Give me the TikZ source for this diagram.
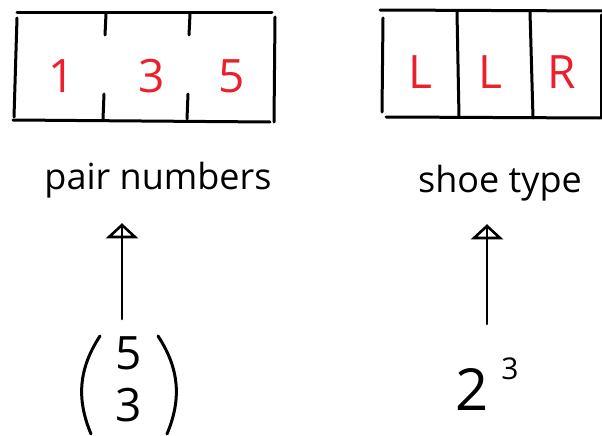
\documentclass[tikz,border=0pt]{standalone}
\usepackage{fontspec}
\setmainfont{Open Sans}
\definecolor{pen}{RGB}{236,32,44}
\tikzset{
  ink/.style={line width=3pt, line cap=round, line join=round},
  shaft/.style={line width=2.6pt, line cap=round},
  entry/.style={text=pen, font=\fontsize{46}{50}\selectfont},
  lbl/.style={font=\fontsize{36}{40}\selectfont},
  cnt/.style={font=\fontsize{46}{52}\selectfont, align=center, inner sep=0pt},
  supr/.style={font=\fontsize{30}{32}\selectfont}
}
\begin{document}
\begin{tikzpicture}[x=1pt, y=-1pt]
  \useasboundingbox (0,0) rectangle (602,436);

  % Left box: pair numbers (dividers only as ticks)
  \begin{scope}
    \draw[ink] (17,13) -- (272,13);
    \draw[ink] (13,120) -- (270,122);
    \draw[ink] (17,18) -- (14,117);
    \draw[ink] (275,17) -- (274,122);
    \foreach \x in {106,190} {
      \draw[ink] (\x,14) -- (\x-1,35);
      \draw[ink] (\x-2,94) -- (\x-3,119);
    }
    \foreach \v/\x in {1/62,3/152,5/232} {
      \node[entry] (p\v) at (\x,76) {\v};
    }
  \end{scope}

  % Right box: shoe type
  \begin{scope}
    \draw[ink] (380,10) -- (602,11);
    \draw[ink] (386,117) -- (600,118);
    \draw[ink] (383,18) -- (382,112);
    \draw[ink] (457,12) -- (459,117);
    \draw[ink] (530,12) -- (533,118);
    \draw[ink] (601,15) -- (601,118);
    \foreach \v/\t/\x in {1/L/420,2/L/490,3/R/562} {
      \node[entry] (s\v) at (\x,72) {\t};
    }
  \end{scope}

  % Labels
  \node[lbl] (pairlbl) at (158,180) {pair numbers};
  \node[lbl] (shoelbl) at (500,183) {shoe type};

  % Counts: binomial with hand drawn brackets
  \node[cnt] (binom) at (129,379) {5\\3};
  \draw[ink] ([shift={(-29,-43)}]binom.center) to[bend right=28] ([shift={(-38,55)}]binom.center);
  \draw[ink] ([shift={(29,-43)}]binom.center) to[bend left=28] ([shift={(38,55)}]binom.center);

  % Counts: power
  \node[font=\fontsize{58}{60}\selectfont] (power) at (472,389) {2};
  \node[supr] (powexp) at ([shift={(38,-20)}]power.center) {3};

  % Arrows
  \coordinate (ptip) at (122,225);
  \coordinate (stip) at (487,226);
  \draw[shaft, shorten >=60pt] (ptip) -- (ptip |- binom.center);
  \draw[shaft, shorten >=65pt] (stip) -- (stip |- power.center);
  \foreach \t in {ptip,stip} {
    \draw[shaft] (\t) -- ++(-13,12) -- ++(26,0) -- cycle;
  }
\end{tikzpicture}
\end{document}
